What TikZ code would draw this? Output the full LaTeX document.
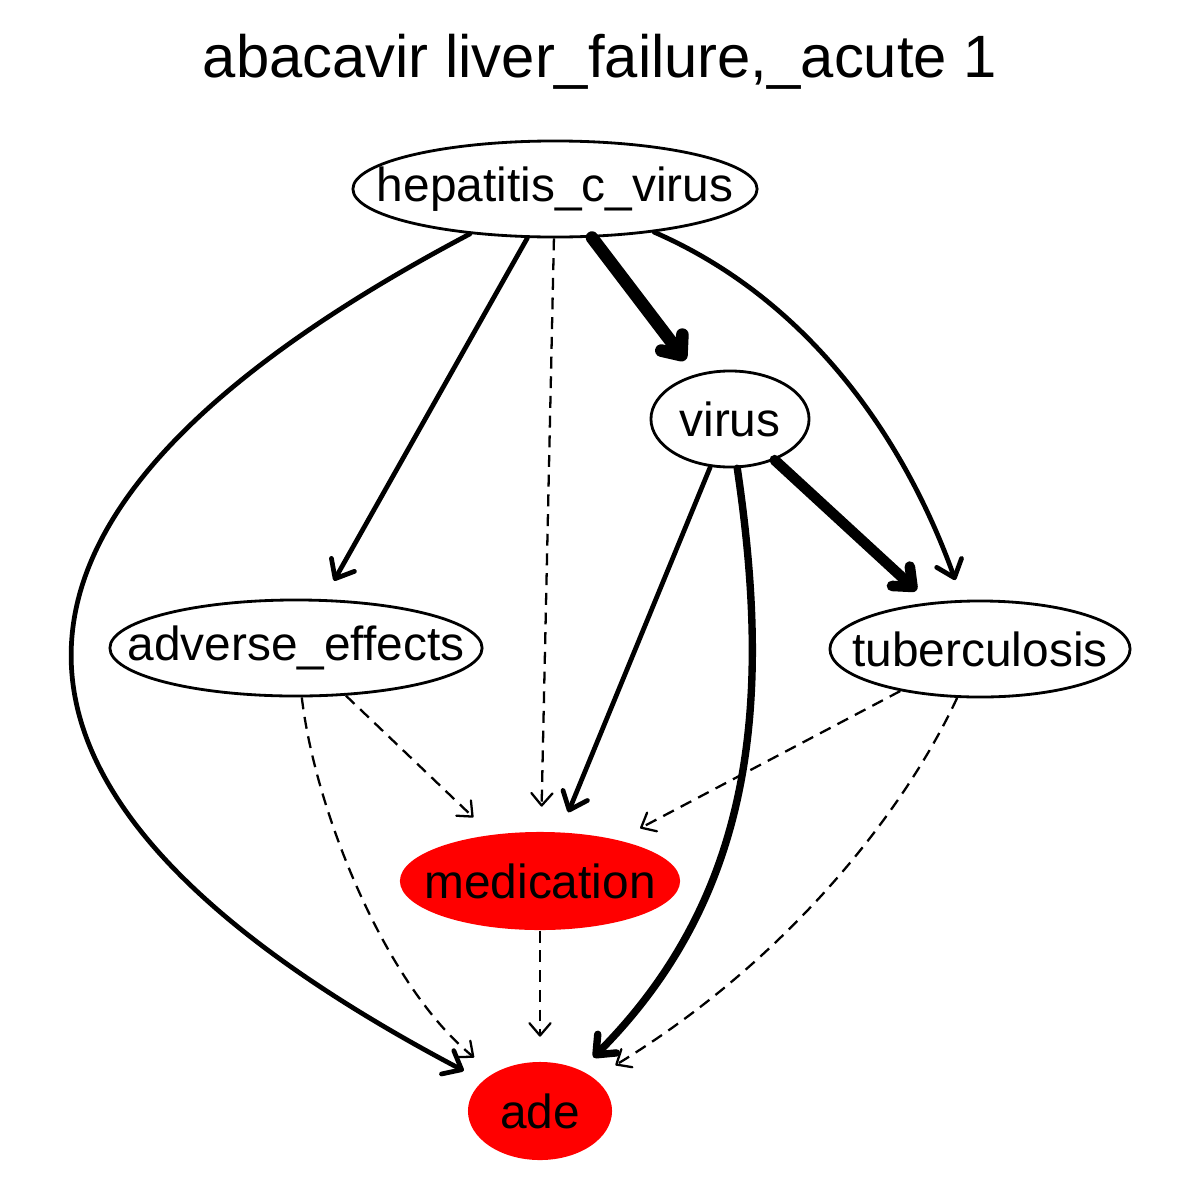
\documentclass[tikz,border=0pt]{standalone}
\usepackage{fontspec}
\setmainfont{Liberation Sans}
\usepackage{tikz}
\usetikzlibrary{shapes.geometric, arrows.meta}

\newcommand{\nodetext}[1]{\makebox[0pt]{#1}}

\begin{document}
\begin{tikzpicture}[x=0.01cm, y=-0.01cm,
    every node/.style={font=\fontsize{13.6}{16}\selectfont},
    var/.style={ellipse, draw, line width=0.8pt, inner sep=0pt, minimum height=0.96cm},
    outcome/.style={ellipse, fill=red, inner sep=0pt, minimum height=0.98cm},
    edge/.style={line width=1.35pt, line cap=round, shorten >=6pt,
        -{Straight Barb[length=4.5pt, width=7.5pt, round]}},
    weak/.style={line width=0.65pt, dash pattern=on 3.4pt off 2.2pt, shorten >=7pt,
        -{Straight Barb[length=3.5pt, width=6pt, round]}},
    heavy/.style={line cap=round, shorten >=5pt,
        -{Straight Barb[length=4.5pt, width=7.5pt, round]}}
]
    \useasboundingbox (0,0) rectangle (1200,1200);

    \node[font=\fontsize{17}{20}\selectfont] (title) at (600,62) {abacavir liver\_failure,\_acute 1};

    % nodes
    \node[var, minimum width=4.04cm] (hep) at (555,189) {\nodetext{hepatitis\_c\_virus}};
    \node[var, minimum width=1.58cm] (virus) at (730,419) {\nodetext{virus}};
    \node[var, minimum width=3.72cm] (adv) at (296,648) {\nodetext{adverse\_effects}};
    \node[var, minimum width=3.00cm] (tb) at (980,649) {\nodetext{tuberculosis}};
    \node[outcome, minimum width=2.80cm] (med) at (540,881) {\nodetext{medication}};
    \node[outcome, minimum width=1.44cm] (ade) at (540,1111) {\nodetext{ade}};

    % edges
    \draw[edge] (hep) .. controls (-74,521) and (-46,802) .. (ade);
    \draw[edge] (hep) -- (adv);
    \draw[weak] (hep) -- (med);
    \draw[heavy, line width=3.6pt] (hep) -- (virus);
    \draw[edge] (hep) .. controls (810,300) and (905,440) .. (tb);
    \draw[edge] (virus) -- (med);
    \draw[heavy, line width=2.1pt] (virus) .. controls (770,690) and (760,890) .. (ade);
    \draw[heavy, line width=3pt] (virus) -- (tb);
    \draw[weak] (adv) -- (med);
    \draw[weak] (adv) .. controls (315,810) and (385,985) .. (ade);
    \draw[weak] (tb) -- (med);
    \draw[weak] (tb) .. controls (900,820) and (780,965) .. (ade);
    \draw[weak] (med) -- (ade);
\end{tikzpicture}
\end{document}
